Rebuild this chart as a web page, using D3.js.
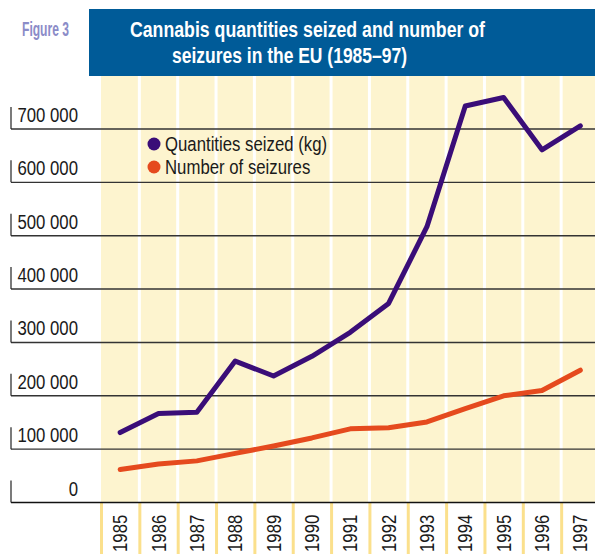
<!DOCTYPE html>
<html>
<head>
<meta charset="utf-8">
<script src="https://cdn.jsdelivr.net/npm/d3@7"></script>
<style>
  html, body { margin: 0; padding: 0; background: #ffffff; }
  svg { display: block; }
  text { font-family: "Liberation Sans", Arial, sans-serif; }
</style>
</head>
<body>
<svg id="chart" width="595" height="554"></svg>
<script>
// ---- data ----
const years = [1985, 1986, 1987, 1988, 1989, 1990, 1991, 1992, 1993, 1994, 1995, 1996, 1997];
const quantitiesSeized = [131000, 167000, 169000, 265000, 237000, 274000, 319000, 373000, 517000, 743000, 759000, 661000, 706000];
const numberOfSeizures = [62000, 72000, 78000, 92000, 106000, 121000, 138000, 140000, 151000, 176000, 200000, 210000, 248000];
const yTickValues = [0, 100000, 200000, 300000, 400000, 500000, 600000, 700000];
const seriesNames = ["Quantities seized (kg)", "Number of seizures"];
const figureLabel = "Figure 3";
const titleLines = ["Cannabis quantities seized and number of", "seizures in the EU (1985\u201397)"];

// ---- styles ----
const colors = { qty: "#3a0d78", num: "#e54a1e", bg: "#fdf4cf", title: "#005b98", fig: "#8b8cc8", sep: "#fbe08c", text: "#1a1a1a" };
const SX = 0.86; // horizontal condensing of the regular text
const FS = 19.5;

const svg = d3.select("#chart");
const W = 595, H = 554;

const x = d3.scaleBand().domain(years).range([101, 599.5]).padding(0);
const y = d3.scaleLinear().domain([0, 700000]).range([502.5, 129]);

const fmt = d3.formatLocale({ decimal: ".", thousands: " ", grouping: [3], currency: ["", ""] }).format(",");

// yellow plot background
svg.append("rect").attr("x", x.range()[0]).attr("y", 76).attr("width", W - x.range()[0]).attr("height", y(0) - 76)
  .attr("fill", colors.bg);

// white column separators (plot area)
svg.append("g").selectAll("line").data(years.slice(1)).join("line")
  .attr("x1", d => x(d)).attr("x2", d => x(d))
  .attr("y1", 76).attr("y2", y(0))
  .attr("stroke", "#ffffff").attr("stroke-width", 3);

// yellow separators below axis
svg.append("g").selectAll("line").data(years).join("line")
  .attr("x1", d => x(d) + 0.5).attr("x2", d => x(d) + 0.5)
  .attr("y1", y(0)).attr("y2", H)
  .attr("stroke", colors.sep).attr("stroke-width", 3);

// title bar
svg.append("rect").attr("x", 89).attr("y", 9).attr("width", W - 89).attr("height", 67).attr("fill", colors.title);
svg.append("text").attr("x", 130).attr("y", 37)
  .attr("font-size", 22).attr("font-weight", "bold").attr("fill", "#ffffff")
  .attr("textLength", 355).attr("lengthAdjust", "spacingAndGlyphs").text(titleLines[0]);
svg.append("text").attr("x", 172).attr("y", 63)
  .attr("font-size", 22).attr("font-weight", "bold").attr("fill", "#ffffff")
  .attr("textLength", 235).attr("lengthAdjust", "spacingAndGlyphs").text(titleLines[1]);

svg.append("text").attr("x", 22).attr("y", 36)
  .attr("font-size", 20).attr("font-weight", "bold").attr("fill", colors.fig)
  .attr("textLength", 47).attr("lengthAdjust", "spacingAndGlyphs").text(figureLabel);

// gridlines, ticks, labels
const yg = svg.append("g");
yg.selectAll("line.grid").data(yTickValues).join("line").attr("class", "grid")
  .attr("x1", 11).attr("x2", W).attr("y1", d => y(d)).attr("y2", d => y(d))
  .attr("stroke", d => d === 0 ? "#111" : "#333").attr("stroke-width", d => d === 0 ? 1.6 : 1.4);
yg.selectAll("line.tick").data(yTickValues).join("line").attr("class", "tick")
  .attr("x1", 11).attr("x2", 11).attr("y1", d => y(d) - 22).attr("y2", d => y(d))
  .attr("stroke", "#222").attr("stroke-width", 1.2);
yg.selectAll("text").data(yTickValues).join("text")
  .attr("transform", d => `translate(78,${y(d) - 7}) scale(${SX},1)`).attr("text-anchor", "end")
  .attr("font-size", FS).attr("fill", colors.text)
  .text(d => fmt(d));

// year labels
svg.append("g").selectAll("text").data(years).join("text")
  .attr("transform", d => `translate(${x(d) + x.bandwidth() / 2 + 7},552) rotate(-90) scale(${SX},1)`)
  .attr("font-size", FS).attr("fill", colors.text)
  .text(d => d);

// lines
const line = d3.line().x((d, i) => x(years[i]) + x.bandwidth() / 2).y(d => y(d));
svg.append("path").datum(numberOfSeizures).attr("d", line).attr("fill", "none")
  .attr("stroke", colors.num).attr("stroke-width", 5).attr("stroke-linecap", "round").attr("stroke-linejoin", "round");
svg.append("path").datum(quantitiesSeized).attr("d", line).attr("fill", "none")
  .attr("stroke", colors.qty).attr("stroke-width", 5).attr("stroke-linecap", "round").attr("stroke-linejoin", "round");

// legend
const leg = svg.append("g").selectAll("g").data(seriesNames).join("g")
  .attr("transform", (d, i) => `translate(154,${144 + i * 23})`);
leg.append("circle").attr("r", 6.5).attr("fill", (d, i) => i === 0 ? colors.qty : colors.num);
leg.append("text").attr("transform", `translate(11,6.5) scale(${SX},1)`)
  .attr("font-size", FS).attr("fill", colors.text).text(d => d);
</script>
</body>
</html>
